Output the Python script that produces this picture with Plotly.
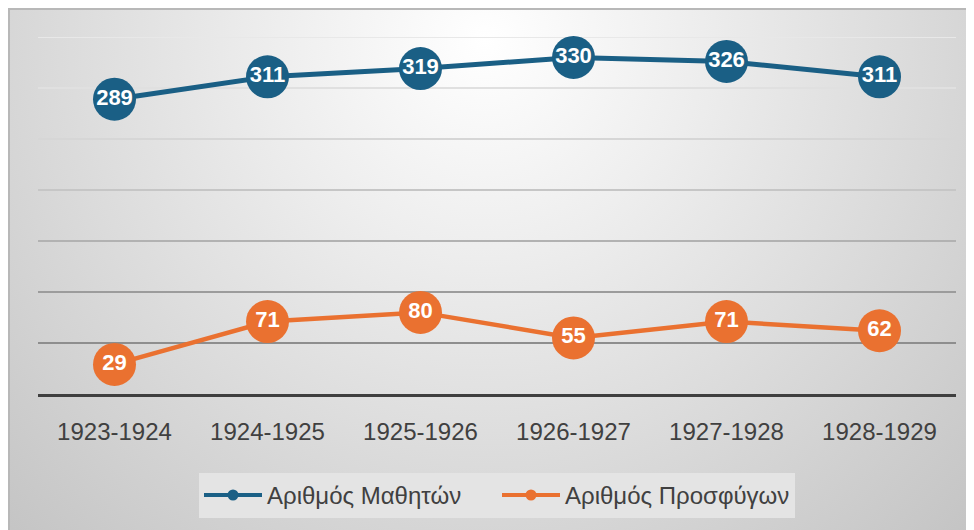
import base64
import plotly.graph_objects as go

# Datos del gráfico
SEASONS = ["1923-1924", "1924-1925", "1925-1926", "1926-1927", "1927-1928", "1928-1929"]
STUDENTS = [289, 311, 319, 330, 326, 311]
REFUGEES = [29, 71, 80, 55, 71, 62]
SERIES_NAMES = ["Αριθμός Μαθητών", "Αριθμός Προσφύγων"]
GRID_VALUES = [50, 100, 150, 200, 250, 300, 350]

BLUE = "#1a5f85"
ORANGE = "#ea7130"
FONT = "Liberation Sans, Arial, sans-serif"
GRID_COLORS = ["#8e8e8e", "#9c9c9c", "#b2b2b2", "#c6c6c6", "#d6d6d6", "#e0e0e0", "#e8e8e8"]

# fondo con degradado radial (como en Excel)
svg = (
    "<svg xmlns='http://www.w3.org/2000/svg' width='974' height='530'>"
    "<defs><radialGradient id='g' gradientUnits='userSpaceOnUse' cx='477' cy='32' r='690'>"
    "<stop offset='0' stop-color='#ffffff'/><stop offset='0.3' stop-color='#eeeeee'/>"
    "<stop offset='0.6' stop-color='#dcdcdc'/><stop offset='1' stop-color='#c4c4c4'/>"
    "</radialGradient></defs>"
    "<rect width='974' height='530' fill='url(#g)'/>"
    "<path d='M1,530 V1 H974' stroke='#b8b8b8' stroke-width='2' fill='none'/>"
    "</svg>"
)
bg_src = "data:image/svg+xml;base64," + base64.b64encode(svg.encode()).decode()

fig = go.Figure()

for vals, name, color, lw in [
    (STUDENTS, SERIES_NAMES[0], BLUE, 5),
    (REFUGEES, SERIES_NAMES[1], ORANGE, 4.5),
]:
    fig.add_trace(
        go.Scatter(
            x=SEASONS,
            y=vals,
            mode="lines+markers+text",
            text=[str(v) for v in vals],
            textposition="middle center",
            textfont=dict(family=FONT, size=22, color="white", weight="bold"),
            line=dict(color=color, width=lw),
            marker=dict(color=color, size=43),
            cliponaxis=False,
            showlegend=False,
            name=name,
        )
    )
    # entrada de leyenda con marcador pequeño
    fig.add_trace(
        go.Scatter(
            x=[None],
            y=[None],
            mode="lines+markers",
            line=dict(color=color, width=4),
            marker=dict(color=color, size=11),
            name=name,
        )
    )

for v, c in zip(GRID_VALUES, GRID_COLORS):
    fig.add_hline(y=v, line_color=c, line_width=2, layer="below")

fig.update_xaxes(
    showgrid=False,
    showline=True,
    linecolor="#3f3f3f",
    linewidth=3,
    ticks="outside",
    ticklen=14,
    tickcolor="rgba(0,0,0,0)",
    tickfont=dict(family=FONT, size=24, color="#404040"),
    range=[-0.5, 5.5],
)
fig.update_yaxes(
    range=[0, 350],
    showgrid=False,
    zeroline=False,
    showticklabels=False,
)

fig.update_layout(
    width=974,
    height=530,
    margin=dict(l=30, r=26, t=29, b=144),
    paper_bgcolor="white",
    plot_bgcolor="rgba(0,0,0,0)",
    images=[
        dict(
            source=bg_src,
            xref="paper",
            yref="paper",
            x=-30 / 918,
            y=386 / 357,
            sizex=974 / 918,
            sizey=530 / 357,
            xanchor="left",
            yanchor="top",
            sizing="stretch",
            layer="below",
        )
    ],
    legend=dict(
        orientation="h",
        x=0.5,
        xanchor="center",
        y=-0.221,
        yanchor="top",
        bgcolor="#e4e4e4",
        font=dict(family=FONT, size=24, color="#404040"),
        itemwidth=58,
        entrywidth=225,
    ),
    hovermode=False,
)

fig.write_html("out.html")
